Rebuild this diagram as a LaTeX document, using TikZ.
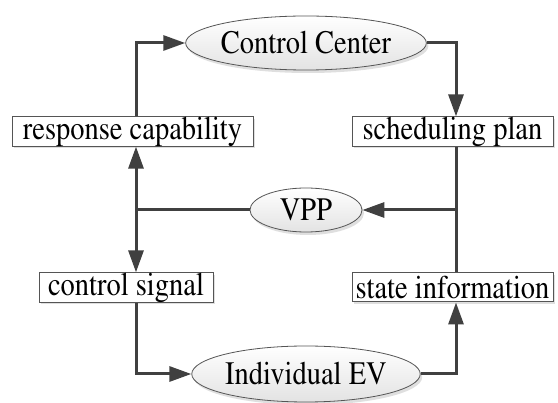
\documentclass[tikz,border=0pt]{standalone}
\usepackage[T1]{fontenc}
\usepackage{mathptmx}
\usepackage{graphicx}
\newcommand\vst[1]{\scalebox{1}[1.15]{#1}}
\usetikzlibrary{arrows.meta,shapes.geometric,shadows}
\definecolor{ln}{HTML}{404040}
\definecolor{edge}{HTML}{555555}
\begin{document}
\begin{tikzpicture}[x=1pt,y=-1pt,
  conn/.style={draw=ln,line width=3pt},
  tip/.style={-{Triangle[length=22pt,width=15pt]}},
  twotip/.style={{Triangle[length=22pt,width=15pt]}-{Triangle[length=22pt,width=15pt]}},
  txt/.style={font=\fontsize{28.5}{30}\selectfont},
  ell/.style={ellipse,draw=edge,line width=0.8pt,top color=white,bottom color=gray!22,
    drop shadow={shadow xshift=2pt,shadow yshift=-3pt,opacity=0.25},inner sep=0pt,txt},
  boxn/.style={rectangle,draw=edge,line width=1pt,fill=white,
    drop shadow={shadow xshift=2pt,shadow yshift=-2pt,opacity=0.25},inner sep=0pt,txt}]
\fill[white] (0,0) rectangle (558,403);
\useasboundingbox (0,0) rectangle (558,403);
\node[ell,minimum width=214,minimum height=54] (cc) at (306,43) {\vst{Control Center}};
\node[ell,minimum width=112,minimum height=44] (vpp) at (306,210) {\vst{VPP}};
\node[ell,minimum width=214,minimum height=56] (ev) at (306,374) {\vst{Individual EV}};
\node[boxn,minimum width=241,minimum height=29] (rc) at (132.5,131.5) {\vst{response capability}};
\node[boxn,minimum width=201,minimum height=29] (sp) at (452.5,131.5) {\vst{scheduling plan}};
\node[boxn,minimum width=174,minimum height=29] (cs) at (126,287.5) {\vst{control signal}};
\node[boxn,minimum width=201,minimum height=29] (si) at (452.5,287.5) {\vst{state information}};
\coordinate (lx) at (136,0);
\coordinate (rx) at (456,0);
\draw[conn,tip] (rc.north -| lx) |- (cc.west);
\draw[conn,tip] (cc.east) -| (sp.north -| rx);
\draw[conn] (sp.south -| rx) -- (si.north -| rx);
\draw[conn,tip] (rx |- vpp) -- (vpp.east);
\draw[conn] (vpp.west) -- (lx |- vpp);
\draw[conn,twotip] (rc.south -| lx) -- (cs.north -| lx);
\draw[conn,tip] (cs.south -| lx) |- (ev.west);
\draw[conn,tip] (ev.east) -| (si.south -| rx);
\end{tikzpicture}
\end{document}
